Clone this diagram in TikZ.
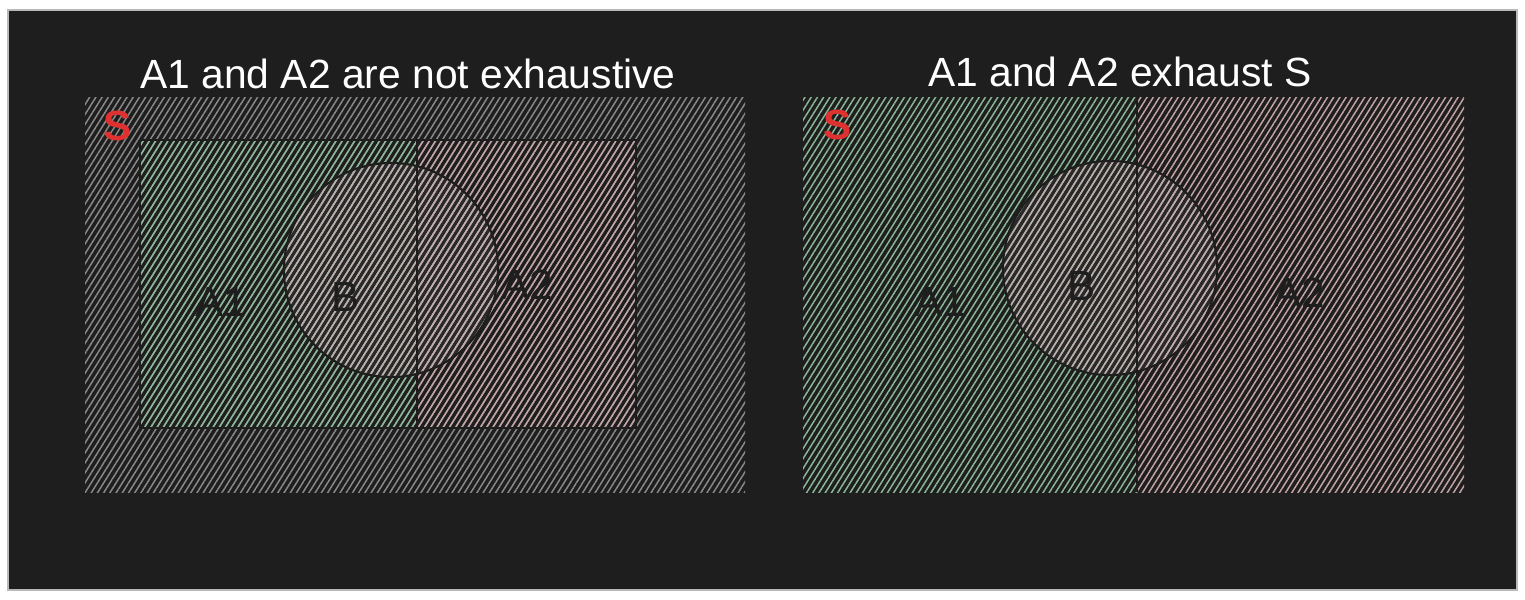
\documentclass[tikz,border=0pt]{standalone}
\usepackage{fontspec}
\setmainfont{Liberation Sans}
\usetikzlibrary{patterns.meta}

\definecolor{canvas}{HTML}{1E1E1E}
\definecolor{hatchS}{HTML}{8A8A8A}
\definecolor{hatchA}{HTML}{8CB898}
\definecolor{hatchB}{HTML}{C4A4A6}
\definecolor{hatchC}{HTML}{C0ADAE}
\definecolor{setred}{HTML}{E03131}

\begin{document}
\begin{tikzpicture}[
    x=0.01cm, y=-0.01cm,
    hatch/.style={pattern={Lines[angle=58,distance=1.5pt,line width=0.42pt]}},
    setS/.style={hatch, pattern color=hatchS},
    setA1/.style={hatch, pattern color=hatchA},
    setA2/.style={hatch, pattern color=hatchB},
    setB/.style={hatch, pattern color=hatchC},
    edge/.style={draw=canvas, line width=0.6pt},
    title/.style={text=white, font=\fontsize{11.6}{14}\selectfont},
    tag/.style={text=canvas, font=\fontsize{12}{14}\selectfont},
    stag/.style={text=setred, font=\bfseries\fontsize{12}{14}\selectfont}
]
\useasboundingbox[fill=white] (0,0) rectangle (1525,599);
\fill[canvas, draw=gray!55, line width=0.5pt] (8,10) rectangle (1517,590);

% left: not exhaustive
\path[setS] (85,97) rectangle (745,492);
\path[setA1] (140,140) rectangle (417,428);
\path[setA2] (417,140) rectangle (636,428);
\fill[hatchC, fill opacity=0.08] (391,270) circle[radius=1.07cm];
\path[setB] (391,270) circle[radius=1.07cm];
\draw[edge] (140,140) rectangle (417,428);
\draw[edge] (417,140) rectangle (636,428);
\draw[edge] (391,270) circle[radius=1.07cm];

\node[title] (titleL) at (408,74) {A1 and A2 are not exhaustive};
\node[stag] (sL) at (118,126) {S};
\node[tag] (a1L) at (221,302) {A1};
\node[tag] (bL) at (346,297) {B};
\node[tag] (a2L) at (527,285) {A2};

% right: exhaust S
\path[setA1] (803,97) rectangle (1137,492);
\path[setA2] (1137,97) rectangle (1464,492);
\fill[hatchC, fill opacity=0.08] (1110,268) circle[radius=1.07cm];
\path[setB] (1110,268) circle[radius=1.07cm];
\draw[edge] (1137,97) -- (1137,492);
\draw[edge] (1110,268) circle[radius=1.07cm];

\node[title] (titleR) at (1120,72) {A1 and A2 exhaust S};
\node[stag] (sR) at (838,125) {S};
\node[tag] (a1R) at (940,302) {A1};
\node[tag] (bR) at (1082,286) {B};
\node[tag] (a2R) at (1299,293) {A2};
\end{tikzpicture}
\end{document}
